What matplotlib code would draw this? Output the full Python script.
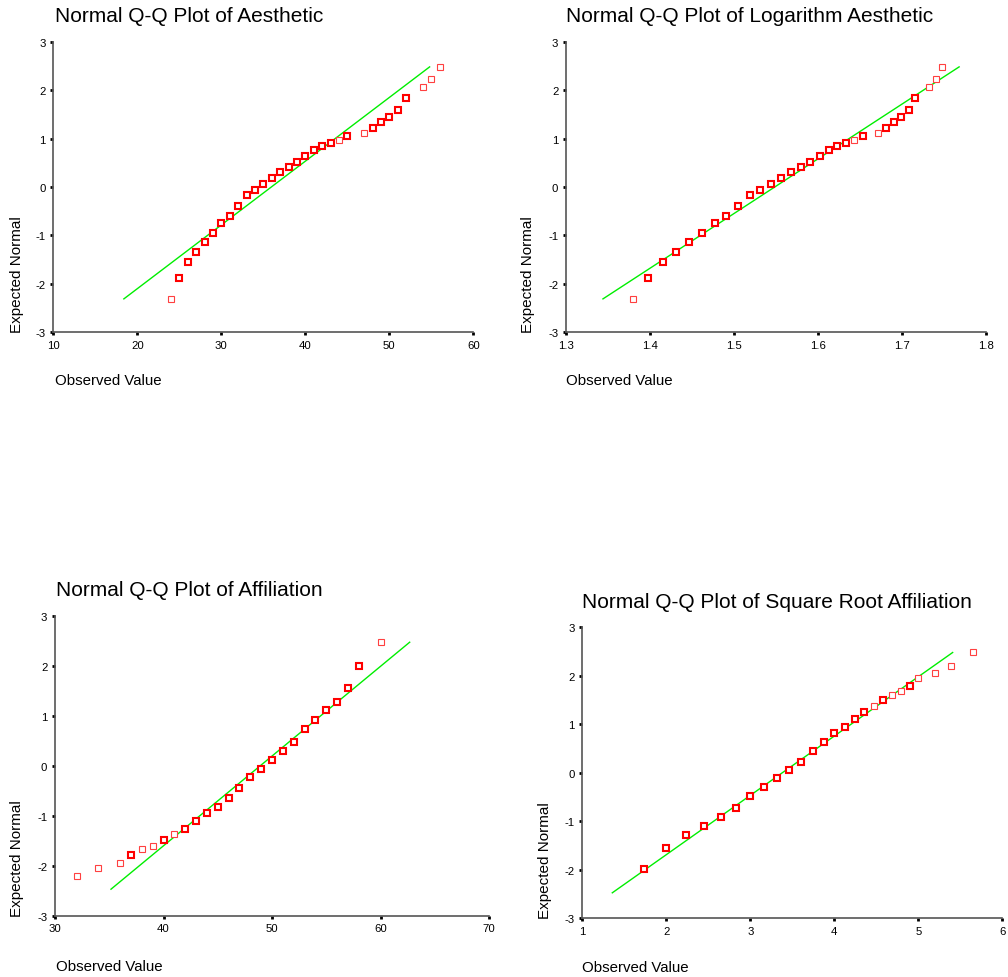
import matplotlib.pyplot as plt

plt.rcParams['font.family'] = ['Liberation Sans', 'DejaVu Sans']
plt.rcParams['axes.unicode_minus'] = False

# Aesthetic (raw)
aes_x = [24, 25, 26, 27, 28, 29, 30, 31, 32, 33, 34, 35, 36, 37, 38, 39, 40, 41,
         42, 43, 44, 45, 47, 48, 49, 50, 51, 52, 54, 55, 56]
aes_y = [-2.31, -1.87, -1.54, -1.34, -1.14, -0.94, -0.74, -0.59, -0.39, -0.17,
         -0.06, 0.07, 0.19, 0.30, 0.41, 0.52, 0.63, 0.76, 0.85, 0.91, 0.98, 1.05,
         1.11, 1.22, 1.35, 1.44, 1.60, 1.84, 2.06, 2.22, 2.48]
aes_tied = [0, 1, 1, 1, 1, 1, 1, 1, 1, 1, 1, 1, 1, 1, 1, 1, 1, 1, 1, 1, 0, 1,
            0, 1, 1, 1, 1, 1, 0, 0, 0]
aes_line_x = [18.4, 54.8]
aes_line_y = [-2.31, 2.48]

# Logarithm Aesthetic
log_x = [1.380, 1.398, 1.415, 1.431, 1.447, 1.462, 1.477, 1.491, 1.505, 1.519,
         1.531, 1.544, 1.556, 1.568, 1.580, 1.591, 1.602, 1.613, 1.623, 1.633,
         1.643, 1.653, 1.672, 1.681, 1.690, 1.699, 1.708, 1.716, 1.732, 1.740, 1.748]
log_y = aes_y
log_tied = aes_tied
log_line_x = [1.344, 1.768]
log_line_y = [-2.31, 2.48]

# Affiliation (raw)
aff_x = [32, 34, 36, 37, 38, 39, 40, 41, 42, 43, 44, 45, 46, 47, 48, 49, 50,
         51, 52, 53, 54, 55, 56, 57, 58, 60]
aff_y = [-2.20, -2.05, -1.94, -1.79, -1.67, -1.61, -1.48, -1.37, -1.26, -1.10,
         -0.95, -0.82, -0.64, -0.45, -0.23, -0.07, 0.11, 0.29, 0.48, 0.73, 0.91,
         1.11, 1.28, 1.55, 1.99, 2.48]
aff_tied = [0, 0, 0, 1, 0, 0, 1, 0, 1, 1, 1, 1, 1, 1, 1, 1, 1, 1, 1, 1, 1, 1,
            1, 1, 1, 0]
aff_line_x = [35.16, 62.69]
aff_line_y = [-2.47, 2.47]

# Square Root Affiliation
sqr_x = [1.732, 2.000, 2.236, 2.449, 2.646, 2.828, 3.000, 3.162, 3.317, 3.464,
         3.606, 3.742, 3.873, 4.000, 4.123, 4.243, 4.359, 4.472, 4.583, 4.690,
         4.796, 4.899, 5.000, 5.196, 5.385, 5.657]
sqr_y = [-1.98, -1.55, -1.28, -1.10, -0.91, -0.73, -0.49, -0.29, -0.11, 0.06,
         0.22, 0.44, 0.64, 0.82, 0.95, 1.11, 1.26, 1.37, 1.49, 1.61, 1.69, 1.79,
         1.95, 2.06, 2.21, 2.48]
sqr_tied = [1, 1, 1, 1, 1, 1, 1, 1, 1, 1, 1, 1, 1, 1, 1, 1, 1, 0, 1, 0, 0, 1,
            0, 0, 0, 0]
sqr_line_x = [1.357, 5.409]
sqr_line_y = [-2.48, 2.48]

W, H = 1008, 978
fig = plt.figure(figsize=(W / 100, H / 100), dpi=100)


def panel(rect, xs, ys, tied, lx, ly, xlim, xticks, title, title_xy, obs_xy, exp_xy):
    l, t, r, b = rect
    ax = fig.add_axes([l / W, 1 - b / H, (r - l) / W, (b - t) / H])
    ax.plot(lx, ly, color='#00ee00', lw=1.0, zorder=2)
    bx = [x for x, k in zip(xs, tied) if k]
    by = [y for y, k in zip(ys, tied) if k]
    tx = [x for x, k in zip(xs, tied) if not k]
    ty = [y for y, k in zip(ys, tied) if not k]
    ax.plot(tx, ty, 's', ms=4.0, mfc='white', mec='#ff4040', mew=0.8, zorder=3)
    ax.plot(bx, by, 's', ms=3.8, mfc='white', mec='#ff0000', mew=1.5, zorder=4)
    ax.set_xlim(xlim)
    ax.set_ylim(-3, 3)
    ax.set_xticks(xticks)
    ax.set_xticklabels([('%g' % v) for v in xticks])
    ax.set_yticks([-3, -2, -1, 0, 1, 2, 3])
    for s in ['top', 'right']:
        ax.spines[s].set_visible(False)
    for s in ['left', 'bottom']:
        ax.spines[s].set_color('#555555')
        ax.spines[s].set_linewidth(1.2)
    ax.tick_params(direction='out', length=2.5, width=2, color='black',
                   labelsize=8.2, pad=3)
    fig.text(title_xy[0] / W, 1 - title_xy[1] / H, title, fontsize=15,
             ha='left', va='center')
    fig.text(obs_xy[0] / W, 1 - obs_xy[1] / H, 'Observed Value', fontsize=10.8,
             ha='left', va='center')
    fig.text(exp_xy[0] / W, 1 - exp_xy[1] / H, 'Expected Normal', fontsize=11,
             ha='center', va='bottom', rotation=90)
    return ax


panel((53.3, 42.7, 473.3, 333.3), aes_x, aes_y, aes_tied, aes_line_x, aes_line_y,
      (10, 60), [10, 20, 30, 40, 50, 60], 'Normal Q-Q Plot of Aesthetic',
      (55, 17), (55, 381), (17, 333))
panel((566, 42.7, 986, 333.3), log_x, log_y, log_tied, log_line_x, log_line_y,
      (1.3, 1.8), [1.3, 1.4, 1.5, 1.6, 1.7, 1.8],
      'Normal Q-Q Plot of Logarithm Aesthetic', (566, 17), (566, 381), (528, 333))
panel((55, 616.7, 489, 916.7), aff_x, aff_y, aff_tied, aff_line_x, aff_line_y,
      (30, 70), [30, 40, 50, 60, 70], 'Normal Q-Q Plot of Affiliation',
      (56, 590), (56, 967), (17, 917))
panel((582.3, 628.3, 1002.3, 919), sqr_x, sqr_y, sqr_tied, sqr_line_x, sqr_line_y,
      (1, 6), [1, 2, 3, 4, 5, 6], 'Normal Q-Q Plot of Square Root Affiliation',
      (582, 603), (582, 968), (545, 919))

fig.savefig('out.png', dpi=100)
